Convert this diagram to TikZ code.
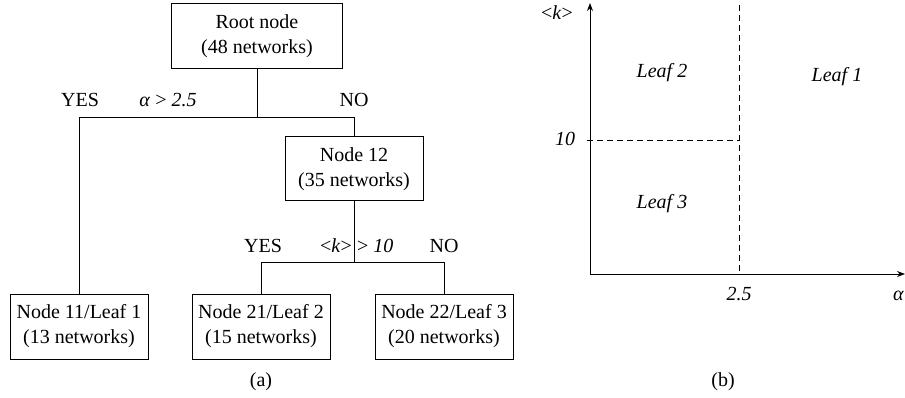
\documentclass[tikz,border=0pt]{standalone}
\usepackage{fontspec}
\setmainfont{Liberation Serif}
\usetikzlibrary{arrows.meta}

\tikzset{
  treebox/.style={draw, line width=1pt, minimum width=138pt, minimum height=65pt,
    inner sep=0pt, align=center, font=\fontsize{20}{25}\selectfont},
  lbl/.style={anchor=base, inner sep=0pt, font=\fontsize{20}{24}\selectfont},
  branch/.style={line width=1pt},
  divider/.style={dash pattern=on 6pt off 4pt, line width=1pt},
  axisline/.style={line width=1pt, -{Stealth[length=8pt, width=6pt]}},
}

\begin{document}
\begin{tikzpicture}[x=1pt, y=-1pt]
\useasboundingbox (0,0) rectangle (905,398);

% (a) the tree
\node[treebox, minimum width=171pt] (root) at (257,36.5) {Root node\\(48 networks)};
\node[treebox, minimum height=64pt] (node12) at (354,169) {Node 12\\(35 networks)};
\node[treebox] (leaf11) at (79,326.5) {Node 11/Leaf 1\\(13 networks)};
\node[treebox] (leaf21) at (261,326.5) {Node 21/Leaf 2\\(15 networks)};
\node[treebox] (leaf22) at (444,326.5) {Node 22/Leaf 3\\(20 networks)};

\coordinate (split1) at (root.south |- 0,118);
\coordinate (split2) at (node12.south |- 0,262);
\draw[branch] (root.south) -- (split1) -| (leaf11.north);
\draw[branch] (split1) -| (node12.north);
\draw[branch] (node12.south) -- (split2) -| (leaf21.north);
\draw[branch] (split2) -| (leaf22.north);

\node[lbl] (yes1) at (80,107) {YES};
\node[lbl] (cond1) at (168,107) {\textit{α} > \textit{2.5}};
\node[lbl] (no1) at (354,107) {NO};
\node[lbl] (yes2) at (263,253) {YES};
\node[lbl, anchor=base east] (cond2a) at (352,253) {<\textit{k}>};
\node[lbl, anchor=base west] (cond2b) at (357,253) {> \textit{10}};
\node[lbl] (no2) at (444,253) {NO};
\node[lbl] (capa) at (261,386) {(a)};

% (b) the partition
\coordinate (origin) at (590,274);
\coordinate (ytip) at (590,3);
\coordinate (xtip) at (905,274);
\coordinate (tick10) at (587,141);
\coordinate (cut10) at (739,141);
\coordinate (cuttop) at (739,5);
\coordinate (cutbot) at (739,274);
\draw[axisline] (origin) -- (ytip);
\draw[axisline] (origin) -- (xtip);
\draw[divider] (tick10) -- (cut10);
\draw[divider] (cuttop) -- (cutbot);

\node[lbl] (ylab) at (557,20) {<\textit{k}>};
\node[lbl] (lab10) at (565,146) {\textit{10}};
\node[lbl] (lab25) at (739,300) {\textit{2.5}};
\node[lbl, anchor=base west] (xlab) at (893,300) {\textit{α}};
\node[lbl] (leaf2) at (662,78) {\textit{Leaf 2}};
\node[lbl] (leaf1) at (837,82) {\textit{Leaf 1}};
\node[lbl] (leaf3) at (662,209) {\textit{Leaf 3}};
\node[lbl] (capb) at (723,386) {(b)};
\end{tikzpicture}
\end{document}
